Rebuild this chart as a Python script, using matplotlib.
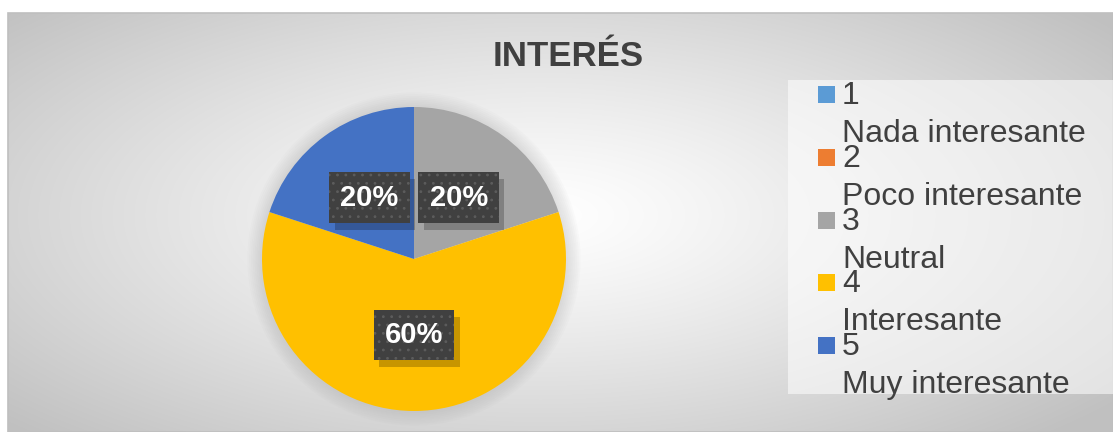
import numpy as np
import matplotlib.pyplot as plt
import matplotlib.patheffects as pe
from matplotlib.patches import Rectangle

# ════════════════════════════════════════
# DATOS
# ════════════════════════════════════════

titulo = "INTERÉS"
niveles = ["1", "2", "3", "4", "5"]
descripciones = ["Nada interesante", "Poco interesante", "Neutral",
                 "Interesante", "Muy interesante"]
porcentajes = [0, 0, 20, 60, 20]
colores = ["#5B9BD5", "#ED7D31", "#A5A5A5", "#FFC000", "#4472C4"]

# ════════════════════════════════════════
# CONFIG
# ════════════════════════════════════════

W, H = 1113, 432
DPI = 100
TXT = "#404040"

plt.rcParams["font.family"] = ["Liberation Sans", "DejaVu Sans"]
plt.rcParams["hatch.linewidth"] = 0.8


def px(x, y):
    # pixel (desde arriba) -> fracción de figura
    return x / W, 1 - y / H


fig = plt.figure(figsize=(W / DPI, H / DPI), dpi=DPI, facecolor="white")

# ════════════════════════════════════════
# FONDO (degradado radial)
# ════════════════════════════════════════

x0, y0 = 8, 13
bg = fig.add_axes([x0 / W, 0, 1 - x0 / W, 1 - y0 / H], zorder=0)
bg.axis("off")
yy, xx = np.mgrid[y0:H, x0:W]
t = np.sqrt(((xx - 540) / 560.0) ** 2 + ((yy - 215) / 235.0) ** 2)
t = np.clip(t / 1.3, 0, 1)
v = 1 - (1 - 0.755) * t ** 1.2
bg.imshow(np.dstack([v, v, v]), aspect="auto", interpolation="bilinear")
fig.add_artist(Rectangle(px(x0, H), (W - x0) / W, (H - y0) / H,
                         transform=fig.transFigure, fill=False,
                         edgecolor="#bfbfbf", linewidth=1.2, zorder=1))

# ════════════════════════════════════════
# TÍTULO
# ════════════════════════════════════════

fig.text(*px(568, 56), titulo, ha="center", va="center",
         fontsize=25, fontweight="bold", color=TXT, zorder=5)

# ════════════════════════════════════════
# PASTEL
# ════════════════════════════════════════

cx, cy, r = 414, 259, 152
ax = fig.add_axes([(cx - 1.1 * r) / W, (H - cy - 1.1 * r) / H,
                   2.2 * r / W, 2.2 * r / H], zorder=3)
ax.set_facecolor("none")

# sombra suave alrededor del pastel
for k in range(8):
    ax.add_patch(plt.Circle((0, 0), 1 + 0.012 * (k + 1), color="#9a9a9a",
                            alpha=0.035, linewidth=0, zorder=0))

wedges, _, autotexts = ax.pie(
    porcentajes,
    colors=colores,
    startangle=90,
    counterclock=False,
    radius=1,
    pctdistance=0.5,
    autopct=lambda p: f"{p:.0f}%" if p > 0 else "",
    wedgeprops=dict(linewidth=0, zorder=1),
    textprops=dict(color="white", fontsize=21, fontweight="bold", zorder=4),
)
ax.set_xlim(-1.1, 1.1)
ax.set_ylim(-1.1, 1.1)
ax.set_aspect("equal")

for at in autotexts:
    if at.get_text():
        at.set_bbox(dict(boxstyle="square,pad=0.38", facecolor="#404040",
                         edgecolor="#5c5c5c", linewidth=0, hatch=".."))
        at.get_bbox_patch().set_path_effects([
            pe.SimplePatchShadow(offset=(4, -5), shadow_rgbFace="black",
                                 alpha=0.22, hatch=None),
            pe.Normal(),
        ])

# ════════════════════════════════════════
# LEYENDA
# ════════════════════════════════════════

fig.add_artist(Rectangle(px(788, 394), (W - 788) / W, (394 - 80) / H,
                         transform=fig.transFigure, facecolor="white",
                         alpha=0.55, linewidth=0, zorder=2))

paso = 62.8
for i, (n, d, c) in enumerate(zip(niveles, descripciones, colores)):
    base = 104 + paso * i
    fig.add_artist(Rectangle(px(818, base - 1), 17 / W, 17 / H,
                             transform=fig.transFigure, facecolor=c,
                             linewidth=0, zorder=4))
    fig.text(*px(842, base), n, ha="left", va="baseline",
             fontsize=23, color=TXT, zorder=5)
    fig.text(*px(842, base + 38), d, ha="left", va="baseline",
             fontsize=23, color=TXT, zorder=5)

fig.savefig("out.png", dpi=DPI, facecolor="white")
